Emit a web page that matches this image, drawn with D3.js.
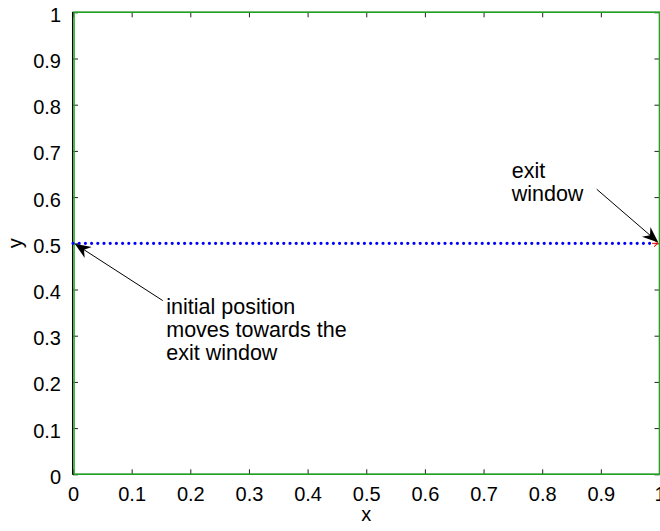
<!DOCTYPE html>
<html>
<head>
<meta charset="utf-8">
<script src="https://cdn.jsdelivr.net/npm/d3@7/dist/d3.min.js"></script>
<style>
  html, body { margin: 0; padding: 0; background: #fff; }
  svg { display: block; font-family: "Liberation Sans", Arial, Helvetica, sans-serif; }
</style>
</head>
<body>
<svg id="chart" width="660" height="531"></svg>
<script>
// Axis ticks
const xTicks = [0, 0.1, 0.2, 0.3, 0.4, 0.5, 0.6, 0.7, 0.8, 0.9, 1];
const yTicks = [0, 0.1, 0.2, 0.3, 0.4, 0.5, 0.6, 0.7, 0.8, 0.9, 1];
const xTickLabels = ["0", "0.1", "0.2", "0.3", "0.4", "0.5", "0.6", "0.7", "0.8", "0.9", "1"];
const yTickLabels = ["0", "0.1", "0.2", "0.3", "0.4", "0.5", "0.6", "0.7", "0.8", "0.9", "1"];

// Room walls (unit square)
const wallX = [0, 1, 1, 0, 0];
const wallY = [0, 0, 1, 1, 0];

// Trajectory of the walker along the centre line
const pathX = [0, 0.1, 0.2, 0.3, 0.4, 0.5, 0.6, 0.7, 0.8, 0.9, 0.99];
const pathY = [0.5, 0.5, 0.5, 0.5, 0.5, 0.5, 0.5, 0.5, 0.5, 0.5, 0.5];

// Exit marker (final velocity arrow)
const exitX = [1];
const exitY = [0.5];

// Annotations: text lines plus arrow tail/tip in data units
const notes = [
  { lines: ["initial position", "moves towards the", "exit window"], tx: 0.159, ty: 0.347, fromX: 0.153, fromY: 0.376, toX: 0.003, toY: 0.499 },
  { lines: ["exit", "window"], tx: 0.748, ty: 0.642, fromX: 0.893, fromY: 0.617, toX: 0.998, toY: 0.502 }
];

const svg = d3.select("#chart");
const L = 73, R = 659.5, T = 12.3, B = 474.3;

const x = d3.scaleLinear().domain([0, 1]).range([L, R]);
const y = d3.scaleLinear().domain([0, 1]).range([B, T]);

const tickLen = 5;

// Axes box
svg.append("rect")
  .attr("x", L - 0.5).attr("y", T).attr("width", R - L + 0.5).attr("height", B - T)
  .attr("fill", "none").attr("stroke", "#000").attr("stroke-width", 1);

// Bottom axis with inward ticks
const xAxisB = d3.axisBottom(x).tickValues(xTicks).tickSize(-tickLen)
  .tickFormat((d, i) => xTickLabels[i]).tickPadding(tickLen + 9);
const gxb = svg.append("g").attr("transform", `translate(0,${B})`).call(xAxisB);
const xAxisT = d3.axisTop(x).tickValues(xTicks).tickSize(-tickLen).tickFormat("");
const gxt = svg.append("g").attr("transform", `translate(0,${T})`).call(xAxisT);
const yAxisL = d3.axisLeft(y).tickValues(yTicks).tickSize(-tickLen)
  .tickFormat((d, i) => yTickLabels[i]).tickPadding(tickLen + 7);
const gyl = svg.append("g").attr("transform", `translate(${L},0)`).call(yAxisL);
const yAxisR = d3.axisRight(y).tickValues(yTicks).tickSize(-tickLen).tickFormat("");
const gyr = svg.append("g").attr("transform", `translate(${R},0)`).call(yAxisR);

[gxb, gxt, gyl, gyr].forEach(g => {
  g.select(".domain").remove();
  g.selectAll(".tick line").attr("stroke", "#222").attr("stroke-width", 1);
  g.selectAll(".tick text").attr("fill", "#000").style("font-size", "20px")
    .style("font-family", '"Liberation Sans", Arial, sans-serif');
});
gxb.selectAll(".tick text").attr("dy", "0.71em").attr("y", 12.5);
gyl.selectAll(".tick text").attr("dy", "0.45em");

// Axis titles
svg.append("text").attr("x", x(0.5)).attr("y", 521).attr("text-anchor", "middle")
  .style("font-size", "20px").text("x");
svg.append("text").attr("transform", `translate(22,${y(0.5)}) rotate(-90)`)
  .attr("text-anchor", "middle").style("font-size", "20px").text("y");

// Walls
const wallLine = d3.line().x(d => x(d[0]) + (d[0] === 0 ? 1 : 0)).y(d => y(d[1]));
svg.append("path")
  .datum(wallX.map((v, i) => [v, wallY[i]]))
  .attr("d", wallLine)
  .attr("fill", "none").attr("stroke", "#1ea51e").attr("stroke-width", 1.6);

// Trajectory as dotted blue line
const traj = d3.line().x(d => x(d[0])).y(d => y(d[1]));
svg.append("path")
  .datum(pathX.map((v, i) => [v, pathY[i]]))
  .attr("d", traj)
  .attr("fill", "none").attr("stroke", "#0000ff").attr("stroke-width", 3.2)
  .attr("stroke-linecap", "round").attr("stroke-dasharray", "0 6.2");

// Exit velocity marker (red chevron)
exitX.forEach((ex, i) => {
  const px = x(ex) - 1.5, py = y(exitY[i]);
  svg.append("path")
    .attr("d", `M${px - 4},${py - 3.5} L${px},${py} L${px - 4},${py + 3.5} M${px - 6},${py} L${px},${py}`)
    .attr("fill", "none").attr("stroke", "#ff0000").attr("stroke-width", 1);
});

// Annotation arrows and text
notes.forEach(n => {
  const x1 = x(n.fromX), y1 = y(n.fromY), x2 = x(n.toX), y2 = y(n.toY);
  const ang = Math.atan2(y2 - y1, x2 - x1);
  const headL = 16, headW = 6.5, back = 11;
  const ca = Math.cos(ang), sa = Math.sin(ang);
  const pt = (along, perp) => [x2 - along * ca - perp * sa, y2 - along * sa + perp * ca];
  svg.append("line")
    .attr("x1", x1).attr("y1", y1)
    .attr("x2", pt(back, 0)[0]).attr("y2", pt(back, 0)[1])
    .attr("stroke", "#000").attr("stroke-width", 1);
  const p1 = pt(headL, headW), p2 = pt(back, 0), p3 = pt(headL, -headW);
  svg.append("path")
    .attr("d", `M${x2},${y2} L${p1[0]},${p1[1]} L${p2[0]},${p2[1]} L${p3[0]},${p3[1]} Z`)
    .attr("fill", "#000");
  const t = svg.append("text").attr("x", x(n.tx)).attr("y", y(n.ty))
    .style("font-size", "21.5px").attr("fill", "#000");
  n.lines.forEach((s, i) => {
    t.append("tspan").attr("x", x(n.tx)).attr("dy", i === 0 ? 0 : 23).text(s);
  });
});
</script>
</body>
</html>
